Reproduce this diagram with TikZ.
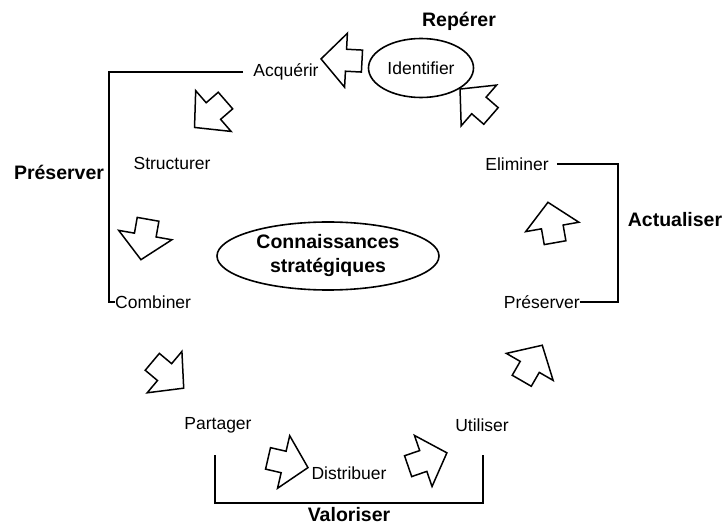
\documentclass[tikz,border=0pt]{standalone}
\usepackage{fontspec}
\setmainfont{Liberation Sans}
\usetikzlibrary{shapes.geometric}
\tikzset{
  lbl/.style={font=\fontsize{17.5}{21}\selectfont, inner sep=0pt},
  hd/.style={font=\fontsize{19.5}{24}\selectfont\bfseries, inner sep=0pt, align=center},
  ln/.style={line width=1.6pt},
  blockarrow/.pic={\draw[line width=1.5pt, line join=miter, fill=white]
      (20.5,0) -- (-4.5,27) -- (-4.5,11) -- (-20.5,11) -- (-20.5,-11) -- (-4.5,-11) -- (-4.5,-27) -- cycle;}
}
\begin{document}
\begin{tikzpicture}[x=1pt,y=-1pt]
\useasboundingbox (0,0) rectangle (725,526);
% headings
\node[hd] (reperer) at (459,21) {Repérer};
\node[hd] (preservH) at (59,172) {Préserver};
\node[hd] (actualiser) at (675,220) {Actualiser};
\node[hd] (valoriser) at (349,515) {Valoriser};
% ellipses
\node[ellipse, draw, ln, minimum width=105pt, minimum height=59pt, inner sep=0pt, lbl] (ident) at (421,68) {\raisebox{-3pt}{Identifier}};
\node[ellipse, draw, ln, minimum width=222pt, minimum height=68pt, inner sep=0pt, hd] (core) at (328,256) {Connaissances\\stratégiques};
% labels
\node[lbl] (acq) at (286,72) {Acquérir};
\node[lbl] (struct) at (172,163) {Structurer};
\node[lbl, anchor=west] (comb) at (115,302) {Combiner};
\node[lbl] (part) at (218,425) {Partager};
\node[lbl] (distr) at (349,473) {Distribuer};
\node[lbl] (util) at (482,425) {Utiliser};
\node[lbl, anchor=east] (pres) at (580,302) {Préserver};
\node[lbl] (elim) at (517,164) {Eliminer};
% brackets
\coordinate (lc) at (109,72);
\draw[ln] ([xshift=-10pt]acq.west) -- (lc) |- (comb.west);
\coordinate (rc) at (618,164);
\draw[ln] ([xshift=8pt]elim.east) -- (rc) |- (pres.east);
\coordinate (v1) at (215,455);
\coordinate (v2) at (215,503);
\coordinate (v3) at (483,503);
\coordinate (v4) at (483,455);
\draw[ln] (v1) -- (v2) -- (v3) -- (v4);
% block arrows
\pic[rotate=177] at (341.5,60) {blockarrow};
\pic[rotate=139] at (475.5,102.5) {blockarrow};
\pic[rotate=221] at (210,114) {blockarrow};
\pic[rotate=260] at (144.5,239.5) {blockarrow};
\pic[rotate=-40] at (168,375) {blockarrow};
\pic[rotate=-13] at (288,463) {blockarrow};
\pic[rotate=19] at (427.5,459.5) {blockarrow};
\pic[rotate=60] at (532,363) {blockarrow};
\pic[rotate=100] at (551.5,222.5) {blockarrow};
\end{tikzpicture}
\end{document}
